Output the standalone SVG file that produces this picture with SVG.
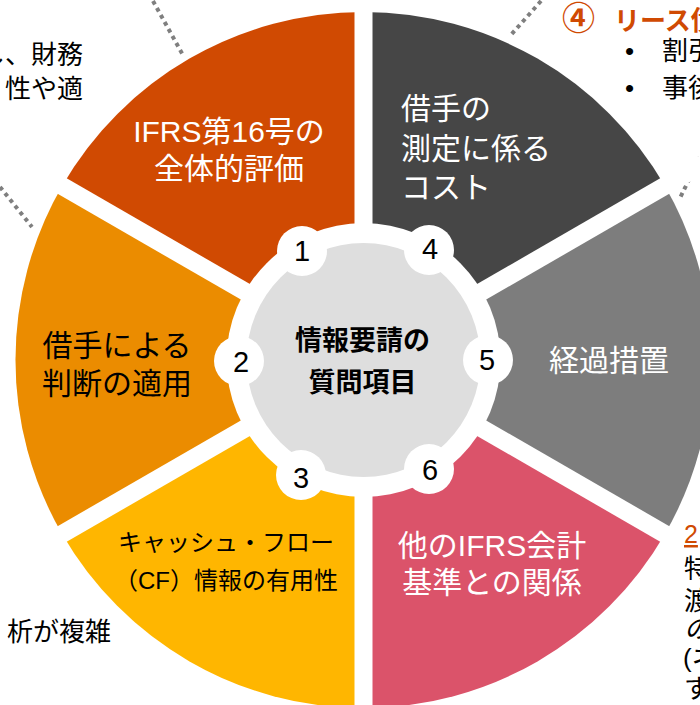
<svg xmlns="http://www.w3.org/2000/svg" width="700" height="705" viewBox="0 0 700 705">
<style>
.jp{font-family:"Liberation Sans","Noto Sans CJK JP",sans-serif}
.lbl{font-size:30px;text-anchor:middle}
.w{fill:#FFFFFF}
.k{fill:#000000}
.num{font-family:"Liberation Sans",Arial,sans-serif;font-size:29px;text-anchor:middle;fill:#000}
.dot{stroke:#7F7F7F;stroke-width:4;stroke-dasharray:4 4;fill:none}
.side{font-size:26px;fill:#000}
</style>
<rect width="700" height="705" fill="#FFFFFF"/>
<g id="connectors">
<line class="dot" x1="153" y1="1" x2="184" y2="57"/>
<line class="dot" x1="0" y1="187" x2="32" y2="227"/>
<line class="dot" x1="541" y1="1" x2="510" y2="36"/>
<line class="dot" x1="700" y1="157" x2="679" y2="200"/>
</g>
<g id="sectors">
<path id="s4" d="M363.5 360 L363.5 12 A348 348 0 0 1 664.9 186 Z" fill="#464646"/>
<path id="s5" d="M363.5 360 L664.9 186 A348 348 0 0 1 664.9 534 Z" fill="#7D7D7D"/>
<path id="s6" d="M363.5 360 L664.9 534 A348 348 0 0 1 363.5 708 Z" fill="#DB536A"/>
<path id="s3" d="M363.5 360 L363.5 708 A348 348 0 0 1 62.1 534 Z" fill="#FFB600"/>
<path id="s2" d="M363.5 360 L62.1 534 A348 348 0 0 1 62.1 186 Z" fill="#EB8C00"/>
<path id="s1" d="M363.5 360 L62.1 186 A348 348 0 0 1 363.5 12 Z" fill="#D04A02"/>
<g stroke="#FFFFFF" stroke-width="18">
<line x1="363.5" y1="0" x2="363.5" y2="705"/>
<line x1="17.1" y1="560" x2="709.9" y2="160"/>
<line x1="17.1" y1="160" x2="709.9" y2="560"/>
</g>
<circle cx="363.5" cy="360" r="137" fill="#FFFFFF"/>
</g>
<g id="center">
<circle cx="363.5" cy="360" r="117" fill="#DEDEDE"/>
<text class="jp" x="362.5" y="350" font-size="27" font-weight="bold" text-anchor="middle" fill="#000">情報要請の</text>
<text class="jp" x="362.5" y="392" font-size="27" font-weight="bold" text-anchor="middle" fill="#000">質問項目</text>
</g>
<g id="n1"><circle cx="302" cy="251" r="25" fill="#FFF"/><text class="num" x="302" y="261">1</text></g>
<g id="n4"><circle cx="429" cy="250" r="25" fill="#FFF"/><text class="num" x="430" y="259">4</text></g>
<g id="n2"><circle cx="239" cy="361" r="25" fill="#FFF"/><text class="num" x="241" y="372">2</text></g>
<g id="n5"><circle cx="488" cy="360" r="25" fill="#FFF"/><text class="num" x="487" y="370">5</text></g>
<g id="n3"><circle cx="301" cy="475" r="25" fill="#FFF"/><text class="num" x="301" y="488">3</text></g>
<g id="n6"><circle cx="429" cy="469" r="25" fill="#FFF"/><text class="num" x="430" y="480">6</text></g>
<g id="label1"><text class="jp lbl w" x="229" y="142">IFRS第16号の</text><text class="jp lbl w" x="229" y="179">全体的評価</text></g>
<g id="label4"><text class="jp w" font-size="30" x="401" y="119">借手の</text><text class="jp w" font-size="30" x="401" y="159">測定に係る</text><text class="jp w" font-size="30" x="401" y="198">コスト</text></g>
<g id="label2"><text class="jp lbl k" x="117" y="356">借手による</text><text class="jp lbl k" x="117" y="394">判断の適用</text></g>
<g id="label5"><text class="jp lbl w" x="609" y="371">経過措置</text></g>
<g id="label3"><text class="jp k" font-size="24" text-anchor="middle" x="226" y="551">キャッシュ・フロー</text><text class="jp k" font-size="24" text-anchor="middle" x="226" y="589">（CF）情報の有用性</text></g>
<g id="label6"><text class="jp lbl w" x="492" y="556">他のIFRS会計</text><text class="jp lbl w" x="492" y="593">基準との関係</text></g>
<g id="note-topleft"><text class="jp side" x="83" y="64" text-anchor="end">し、財務</text><text class="jp side" x="83" y="98" text-anchor="end">性や適</text></g>
<g id="note-topright">
<text class="jp" y="30" font-weight="bold" fill="#D04A02"><tspan x="562" font-size="33">④</tspan><tspan x="614" font-size="26">リース債務</tspan></text>
<text class="jp side" x="625" y="60">•</text><text class="jp side" x="662" y="60">割引</text>
<text class="jp side" x="625" y="97">•</text><text class="jp side" x="662" y="97">事後</text>
</g>
<g id="note-bottomleft"><text class="jp side" x="111" y="641" font-size="27" text-anchor="end">析が複雑</text></g>
<g id="note-bottomright">
<text class="jp" x="684" y="543" font-size="25" fill="#D04A02" text-decoration="underline">2</text>
<text class="jp side" x="684" y="578" font-size="24">特</text>
<text class="jp side" x="684" y="610" font-size="24">渡</text>
<text class="jp side" x="684" y="638" font-size="24" font-style="italic">の</text>
<text class="jp side" x="683" y="667" font-size="17">(ネ</text>
<text class="jp side" x="684" y="698" font-size="22">す</text>
</g>
</svg>
